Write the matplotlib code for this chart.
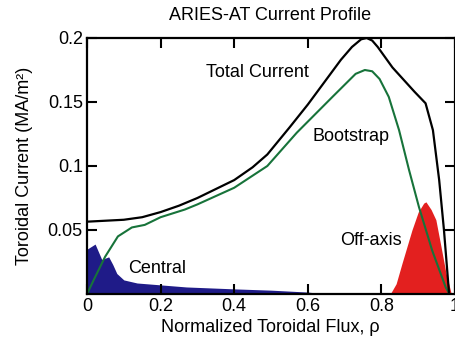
import matplotlib
matplotlib.use('Agg')
import matplotlib.pyplot as plt
import numpy as np

plt.rcParams['font.family'] = ['Liberation Sans', 'DejaVu Sans']

# total current
rho_tot = [0, 0.1, 0.15, 0.2, 0.25, 0.3, 0.35, 0.4, 0.45, 0.49, 0.55, 0.6, 0.69,
           0.72, 0.745, 0.76, 0.775, 0.79, 0.83, 0.89, 0.92, 0.94, 0.957, 0.97, 0.984]
j_tot = [0.0565, 0.058, 0.060, 0.064, 0.069, 0.075, 0.082, 0.089, 0.099, 0.109,
         0.130, 0.148, 0.183, 0.193, 0.199, 0.2, 0.198, 0.193, 0.177, 0.158, 0.149,
         0.128, 0.089, 0.05, 0.0]

# bootstrap
rho_bs = [0, 0.02, 0.049, 0.084, 0.122, 0.157, 0.2, 0.266, 0.3, 0.4, 0.49, 0.57,
          0.667, 0.73, 0.755, 0.775, 0.795, 0.82, 0.848, 0.875, 0.902,
          0.938, 0.975, 0.985]
j_bs = [0, 0.012, 0.029, 0.045, 0.052, 0.054, 0.060, 0.066, 0.070, 0.083, 0.100,
        0.126, 0.154, 0.172, 0.175, 0.174, 0.168, 0.154, 0.128, 0.097, 0.068,
        0.034, 0.005, 0]

# central drive
rho_c = [0, 0.022, 0.04, 0.059, 0.07, 0.081, 0.1, 0.136, 0.27, 0.4, 0.5, 0.6, 0.65]
j_c = [0.035, 0.039, 0.027, 0.029, 0.023, 0.016, 0.011, 0.0086, 0.0055, 0.004,
       0.003, 0.0015, 0]

# off-axis drive
rho_off = [0.824, 0.84, 0.856, 0.883, 0.90, 0.915, 0.921, 0.935, 0.948, 0.962, 0.975, 0.99]
j_off = [0, 0.008, 0.024, 0.05, 0.064, 0.071, 0.072, 0.066, 0.058, 0.037, 0.017, 0]

xticks = [0, 0.2, 0.4, 0.6, 0.8, 1]
xticklabels = ['0', '0.2', '0.4', '0.6', '0.8', '1']
yticks = [0.05, 0.1, 0.15, 0.2]
yticklabels = ['0.05', '0.1', '0.15', '0.2']

fig = plt.figure(figsize=(4.56, 3.44), dpi=100)
ax = fig.add_axes([87/456, 50/344, 368/456, 256/344])

ax.fill_between(rho_c, j_c, color='#1f1b88', lw=0)
ax.fill_between(rho_off, j_off, color='#e3201f', lw=0)
ax.plot(rho_bs, j_bs, color='#17733a', lw=1.5)
ax.plot(rho_tot, j_tot, color='black', lw=1.6)

ax.set_xlim(0, 1)
ax.set_ylim(0, 0.2)
ax.set_xticks(xticks)
ax.set_xticklabels(xticklabels)
ax.set_yticks(yticks)
ax.set_yticklabels(yticklabels)
ax.tick_params(direction='in', length=7, width=1.5, labelsize=13,
               top=True, right=True, pad=3)
for s in ax.spines.values():
    s.set_linewidth(1.6)

fs = 13
ax.text(0.463, 0.173, 'Total Current', fontsize=fs, ha='center', va='center')
ax.text(0.718, 0.123, 'Bootstrap', fontsize=fs, ha='center', va='center')
ax.text(0.19, 0.020, 'Central', fontsize=fs, ha='center', va='center')
ax.text(0.772, 0.042, 'Off-axis', fontsize=fs, ha='center', va='center')

fig.text(270/456, 1 - 15/344, 'ARIES-AT Current Profile', fontsize=fs,
         ha='center', va='center')
fig.text(270/456, 1 - 328/344, 'Normalized Toroidal Flux, \u03c1', fontsize=fs,
         ha='center', va='center')
fig.text(25/456, 1 - 166/344, 'Toroidal Current (MA/m\u00b2)', fontsize=fs,
         ha='center', va='center', rotation=90)

fig.savefig('out.png', dpi=100)
